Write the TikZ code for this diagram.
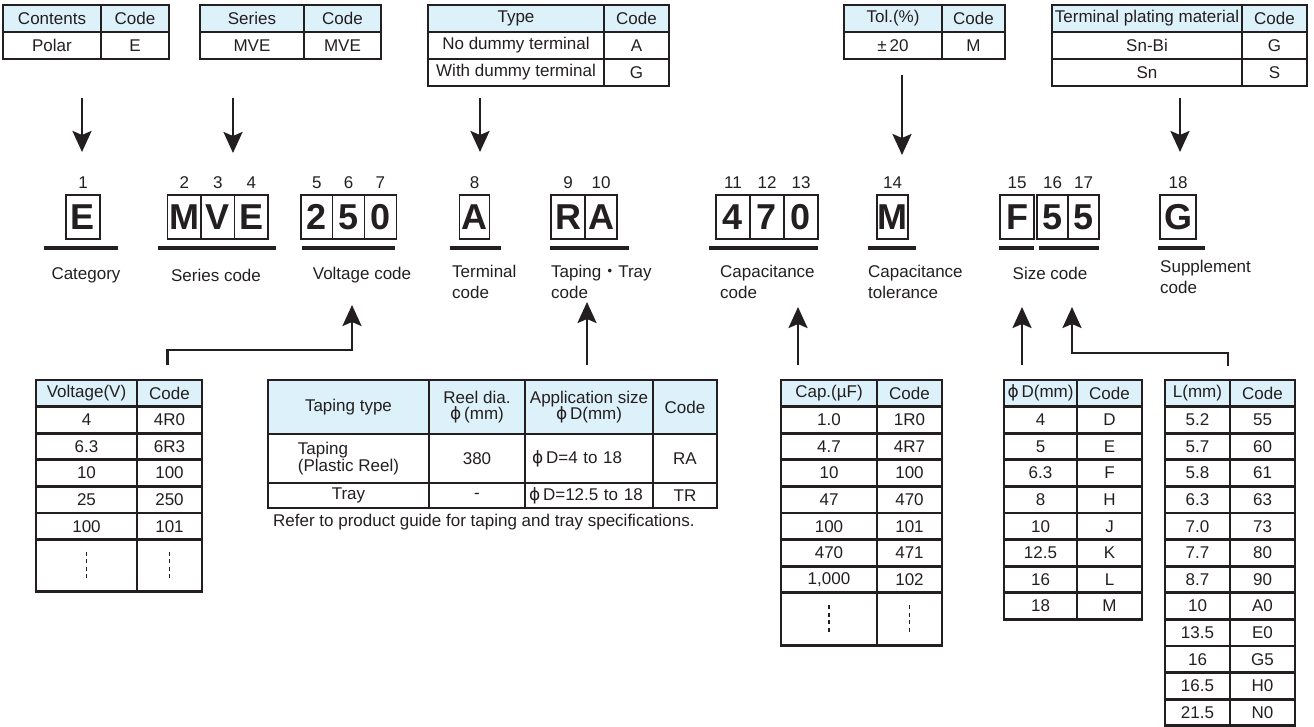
\documentclass[tikz,border=0pt]{standalone}
\usepackage{fontspec}
\setmainfont{Liberation Sans}
\newfontfamily\cjkfont{Noto Sans CJK JP}
\newfontfamily\phifont{DejaVu Sans}
\usetikzlibrary{calc, positioning, arrows.meta}
\definecolor{headBlue}{RGB}{221, 241, 250}
\definecolor{inkGray}{RGB}{35, 31, 32}
\newcommand{\dphi}{{\phifont ϕ}}
% two-column code table: name, x, y, left width, code width, row height, heading, rows
\newcommand{\codetable}[8]{%
  \node[cell, fill=headBlue, minimum width=#4, minimum height=#6] (#1-h) at (#2,#3) {#7};
  \node[cell, fill=headBlue, minimum width=#5, minimum height=#6] (#1-hc) at (#1-h.north east) {Code};
  \foreach \va/\vb [count=\i] in {#8} {
    \node[cell, minimum width=#4, minimum height=#6] (#1-\i) at ($(#1-h.north west)+(0,\i*#6)$) {\va};
    \node[cell, minimum width=#5, minimum height=#6] (#1-\i-c) at (#1-\i.north east) {\vb};
  }%
}
\tikzset{
  cell/.style={draw=inkGray, line width=2.7pt, inner sep=0pt, outer sep=0pt, anchor=north west,
    align=center, text=inkGray, font=\fontsize{17}{16.5}\selectfont},
  digit/.style={draw=inkGray, line width=1.1pt, inner sep=0pt, outer sep=0pt, anchor=north west,
    minimum height=44, text=inkGray, font=\fontsize{36}{36}\selectfont\bfseries},
  idx/.style={inner sep=0pt, text=inkGray, font=\fontsize{17}{17}\selectfont},
  lab/.style={inner sep=0pt, align=left, text=inkGray, font=\fontsize{17}{21}\selectfont},
  bar/.style={draw=inkGray, line width=4.5pt},
  arr/.style={draw=inkGray, line width=2.6pt, -{Stealth[length=21pt, width=19pt, inset=4pt]}},
  dotline/.style={draw=inkGray, line width=1.2pt, dash pattern=on 4pt off 3.5pt}
}
\begin{document}
\begin{tikzpicture}[x=1pt, y=-1pt]
  \useasboundingbox (0,0) rectangle (1314,726);

  % tables above the code
  \codetable{cat}{3}{5}{98}{68}{27}{Contents}{Polar/E}
  \codetable{ser}{200}{5}{104}{77}{27}{Series}{MVE/MVE}
  \codetable{typ}{428}{5}{176}{65}{27}{Type}{No dummy terminal/A, With dummy terminal/G}
  \codetable{tol}{844}{5}{98}{63}{27}{Tol.(\%)}{±\,20/M}
  \codetable{plt}{1052}{5}{190}{65}{27}{Terminal plating material}{Sn-Bi/G, Sn/S}

  \foreach \n/\xx/\ya/\yb in {cat/82/98/152, ser/233/98/153, typ/480/98/152, tol/902/75/155, plt/1180/98/152} {
    \coordinate (\n-top) at (\xx,\ya);
    \coordinate (\n-tip) at (\xx,\yb);
    \draw[arr] (\n-top) -- (\n-tip);
  }

  % the code itself
  \foreach \ch/\xx/\ww [count=\k] in {E/66/34, M/167.5/33.5, V/201/33.5, E/234.5/33.5,
      2/301/31.7, 5/332.7/31.7, 0/364.4/31.7, A/459.5/30, R/551/34, A/585/32,
      4/716/34, 7/750/34, 0/784/34, M/877/31, F/1000/34, 5/1037/31, 5/1068/31, G/1160/36} {
    \node[digit, minimum width=\ww] (d\k) at (\xx,195) {\ch};
    \node[idx] (n\k) at ($(d\k.north)+(0,-12)$) {\k};
  }
  \foreach \xa/\xb in {44/118, 158/276, 302/395, 450/501, 550/629, 709/818, 868/916, 999/1034, 1039/1099, 1158/1205}
    \draw[bar] (\xa,248) -- (\xb,248);

  \node[lab] (l-cat) at (86,275) {Category};
  \node[lab] (l-ser) at (216,275) {Series code};
  \node[lab] (l-vol) at (362,275) {Voltage code};
  \node[lab, anchor=west] (l-ter) at (452,282) {Terminal\\code};
  \node[lab, anchor=west] (l-tap) at (551,282) {Taping{\cjkfont ・}Tray\\code};
  \node[lab, anchor=west] (l-cap) at (720,282) {Capacitance\\code};
  \node[lab, anchor=west] (l-tol) at (868,282) {Capacitance\\tolerance};
  \node[lab] (l-siz) at (1050,273) {Size code};
  \node[lab, anchor=west] (l-sup) at (1160,277) {Supplement\\code};

  % tables below the code
  \codetable{vol}{36}{380}{101}{65}{26.6}{Voltage(V)}{4/4R0, 6.3/6R3, 10/100, 25/250, 100/101}
  \node[cell, minimum width=101, minimum height=52] (vol-6) at (vol-5.south west) {};
  \node[cell, minimum width=65, minimum height=52] (vol-6-c) at (vol-6.north east) {};

  \node[cell, fill=headBlue, minimum width=161, minimum height=54] (tap-h1) at (268,380) {Taping type};
  \node[cell, fill=headBlue, minimum width=96, minimum height=54] (tap-h2) at (tap-h1.north east) {Reel dia.\\\dphi\,(mm)};
  \node[cell, fill=headBlue, minimum width=128, minimum height=54] (tap-h3) at (tap-h2.north east) {Application size\\\dphi\,D(mm)};
  \node[cell, fill=headBlue, minimum width=64, minimum height=54] (tap-h4) at (tap-h3.north east) {Code};
  \node[cell, align=left, minimum width=161, minimum height=49] (tap-1) at (tap-h1.south west) {Taping\\(Plastic Reel)};
  \node[cell, minimum width=96, minimum height=49] (tap-1-2) at (tap-1.north east) {380};
  \node[cell, text width=114, align=left, minimum width=128, minimum height=49] (tap-1-3) at (tap-1-2.north east) {\dphi\,D=4 to 18};
  \node[cell, minimum width=64, minimum height=49] (tap-1-4) at (tap-1-3.north east) {RA};
  \node[cell, minimum width=161, minimum height=25] (tap-2) at (tap-1.south west) {Tray};
  \node[cell, minimum width=96, minimum height=25] (tap-2-2) at (tap-2.north east) {-};
  \node[cell, text width=120, align=left, minimum width=128, minimum height=25] (tap-2-3) at (tap-2-2.north east) {\dphi\,D=12.5 to 18};
  \node[cell, minimum width=64, minimum height=25] (tap-2-4) at (tap-2-3.north east) {TR};
  \node[lab, anchor=west] (note) at ($(tap-2.south west)+(5,14)$) {Refer to product guide for taping and tray specifications.};

  \codetable{cap}{781}{380}{96}{65}{26.6}{Cap.(µF)}{1.0/1R0, 4.7/4R7, 10/100, 47/470, 100/101, 470/471, 1{,}000/102}
  \node[cell, minimum width=96, minimum height=53] (cap-8) at (cap-7.south west) {};
  \node[cell, minimum width=65, minimum height=53] (cap-8-c) at (cap-8.north east) {};

  \codetable{dia}{1004}{380}{73}{65}{26.6}{\dphi\,D(mm)}{4/D, 5/E, 6.3/F, 8/H, 10/J, 12.5/K, 16/L, 18/M}
  \codetable{len}{1165}{380}{65}{65}{26.6}{L(mm)}{5.2/55, 5.7/60, 5.8/61, 6.3/63, 7.0/73, 7.7/80, 8.7/90, 10/A0, 13.5/E0, 16/G5, 16.5/H0, 21.5/N0}

  \foreach \c in {vol-6, vol-6-c, cap-8, cap-8-c}
    \draw[dotline] ($(\c.center)+(0,-14)$) -- ($(\c.center)+(0,14)$);

  % arrows up to the code
  \coordinate (vol-tip) at (352,305);
  \coordinate (tap-tip) at (587,302);
  \coordinate (cap-tip) at (798,307);
  \coordinate (dia-tip) at (1022,307);
  \coordinate (len-tip) at (1072,307);
  \draw[arr] ($(vol-hc.north)+(-2,-15)$) -- ++(0,-15) -| (vol-tip);
  \draw[arr] ($(tap-h3.north)+(-2,-15)$) -- (tap-tip);
  \draw[arr] ($(cap-h.north west)+(17,-15)$) -- (cap-tip);
  \draw[arr] ($(dia-h.north west)+(18,-15)$) -- (dia-tip);
  \draw[arr] ($(len-h.north east)+(-2,-14)$) -- ++(0,-13) -| (len-tip);
\end{tikzpicture}
\end{document}
